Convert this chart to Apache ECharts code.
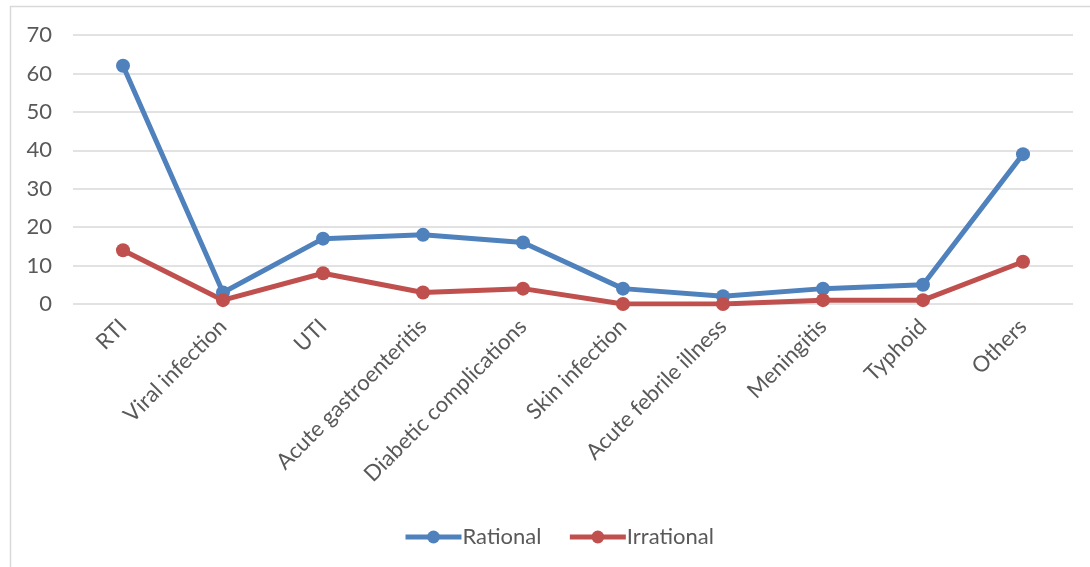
<!DOCTYPE html>
<html><head><meta charset="utf-8">
<script src="https://cdn.jsdelivr.net/npm/echarts@6/dist/echarts.min.js"></script>
<style>html,body{margin:0;padding:0;background:#fff}#c{width:1090px;height:567px}</style>
</head><body><div id="c"></div>
<script>
const categories = ["RTI","Viral infection","UTI","Acute gastroenteritis","Diabetic complications","Skin infection","Acute febrile illness","Meningitis","Typhoid","Others"];
const rational = [62,3,17,18,16,4,2,4,5,39];
const irrational = [14,1,8,3,4,0,0,1,1,11];
const yTicks = {min:0,max:70,interval:10};

const chart = echarts.init(document.getElementById('c'));
const font = 'Lato, "Open Sans", sans-serif';
chart.setOption({
  animation:false,
  graphic:[{type:'rect',shape:{x:10.5,y:6.5,width:1100,height:600},style:{fill:'none',stroke:'#d9d9d9',lineWidth:1.5},silent:true}],
  grid:{left:73,right:17,top:35,bottom:263,containLabel:false},
  legend:{top:526,left:403,padding:0,itemWidth:56,itemHeight:16,itemGap:26,
    lineStyle:{width:5},
    textStyle:{fontFamily:font,fontSize:22,color:'#595959',padding:[0,0,0,-4]},
    data:['Rational','Irrational']},
  xAxis:{type:'category',data:categories,boundaryGap:true,
    axisLine:{show:false},axisTick:{show:false},
    axisLabel:{rotate:45,interval:0,fontFamily:font,fontSize:22,color:'#595959',margin:19}},
  yAxis:{type:'value',min:yTicks.min,max:yTicks.max,interval:yTicks.interval,
    axisLine:{show:false},axisTick:{show:false},
    splitLine:{lineStyle:{color:'#d9d9d9',width:1.5}},
    axisLabel:{fontFamily:font,fontSize:22,color:'#595959',margin:21}},
  series:[
    {name:'Rational',type:'line',data:rational,symbol:'circle',symbolSize:14,
      lineStyle:{color:'#4f81bd',width:5},itemStyle:{color:'#4f81bd'}},
    {name:'Irrational',type:'line',data:irrational,symbol:'circle',symbolSize:14,
      lineStyle:{color:'#c0504d',width:5},itemStyle:{color:'#c0504d'}}
  ]
});
</script></body></html>
